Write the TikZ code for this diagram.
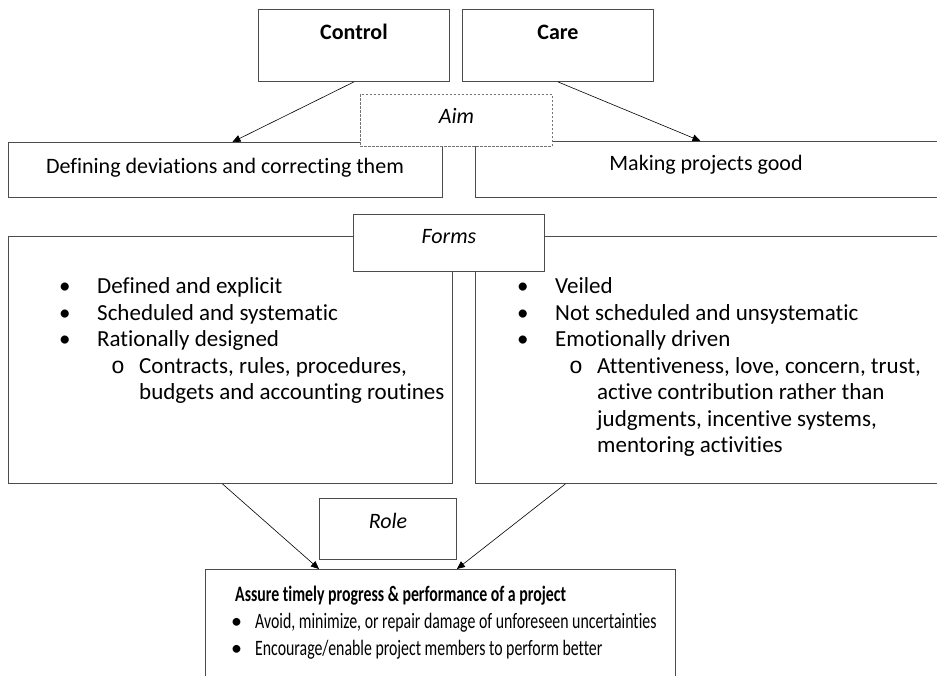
\documentclass[tikz,border=0pt]{standalone}
\usepackage{fontspec}
\setmainfont{Carlito}[Ligatures=NoCommon]
\setmonofont{Liberation Mono}
\usetikzlibrary{arrows.meta,positioning}

\newcommand\txtsize{\fontsize{22}{27}\selectfont}
\newcommand\lstsize{\fontsize{23}{26.5}\selectfont}
\newcommand\narrow[1]{\scalebox{0.72}[1]{#1}}

\begin{document}
\begin{tikzpicture}[x=1pt, y=-1pt,
  every node/.style={font=\txtsize},
  box/.style={draw=black!70, line width=0.9pt, fill=white, anchor=north west, inner sep=0pt},
  aimbox/.style={box, draw=black!55, dash pattern=on 2.5pt off 1.5pt, line width=0.8pt},
  lbl/.style={inner sep=0pt, anchor=base},
  lst/.style={inner sep=0pt, anchor=base west, font=\lstsize},
  arr/.style={-{Triangle[width=7pt,length=8pt]}, line width=0.6pt}]
  \useasboundingbox (0,0) rectangle (937,676);
  % the two sides
  \node[box, minimum width=191, minimum height=72] (control) at (258,9) {};
  \node[box, minimum width=191, minimum height=72] (care) at (462,9) {};
  \node[lbl, font=\txtsize\bfseries] (control-t) at (control.north |- 0,40) {Control};
  \node[lbl, font=\txtsize\bfseries] (care-t) at (care.north |- 0,40) {Care};
  % aim
  \node[box, minimum width=434, minimum height=55] (defn) at (8,142) {};
  \node[box, minimum width=470, minimum height=56] (good) at (475,141) {};
  \node[aimbox, minimum width=192, minimum height=52] (aim) at (360,94) {};
  \node[lbl, font=\txtsize\itshape] (aim-t) at (aim.north |- 0,124) {Aim};
  \node[lbl] (defn-t) at (225,174) {Defining deviations and correcting them};
  \node[lbl] (good-t) at (706,171) {Making projects good};
  \draw[arr] (control.south) -- ([xshift=7]defn.north);
  \draw[arr] (care.south) -- ([xshift=-10]good.north);
  % forms
  \node[box, minimum width=444, minimum height=247] (formsl) at (8,236) {};
  \node[box, minimum width=470, minimum height=247] (formsr) at (475,236) {};
  \node[box, minimum width=191, minimum height=57] (forms) at (353,214) {};
  \node[lbl, font=\txtsize\itshape] (forms-t) at (forms.north |- 0,244) {Forms};
  \node[lst] (control-list) at (59,294) {\begin{tabular}[t]{@{}p{38pt}@{}p{14pt}@{}p{28pt}@{}l@{}}
    • & \multicolumn{3}{@{}l@{}}{Defined and explicit}\\
    • & \multicolumn{3}{@{}l@{}}{Scheduled and systematic}\\
    • & \multicolumn{3}{@{}l@{}}{Rationally designed}\\
      & & \texttt{o} & Contracts, rules, procedures,\\
      & & & budgets and accounting routines
  \end{tabular}};
  \node[lst] (care-list) at (517,294) {\begin{tabular}[t]{@{}p{38pt}@{}p{14pt}@{}p{28pt}@{}l@{}}
    • & \multicolumn{3}{@{}l@{}}{Veiled}\\
    • & \multicolumn{3}{@{}l@{}}{Not scheduled and unsystematic}\\
    • & \multicolumn{3}{@{}l@{}}{Emotionally driven}\\
      & & \texttt{o} & Attentiveness, love, concern, trust,\\
      & & & active contribution rather than\\
      & & & judgments, incentive systems,\\
      & & & mentoring activities
  \end{tabular}};
  % role
  \node[box, minimum width=137, minimum height=61] (role) at (319,498) {};
  \node[lbl, font=\txtsize\itshape] (role-t) at (role.north |- 0,528) {Role};
  \node[box, minimum width=470, minimum height=140] (assure) at (205,569) {};
  \draw[arr] ([xshift=-8]formsl.south) -- (role.west |- assure.north);
  \draw[arr] ([xshift=-145]formsr.south) -- (role.east |- assure.north);
  \node[lst, font=\txtsize\bfseries] (assure-t) at (235,601) {\narrow{Assure timely progress \& performance of a project}};
  \node[lst, font=\txtsize] (assure-list) at (231,628) {\begin{tabular}[t]{@{}p{24pt}@{}l@{}}
    • & \narrow{Avoid, minimize, or repair damage of unforeseen uncertainties}\\
    • & \narrow{Encourage/enable project members to perform better}
  \end{tabular}};
\end{tikzpicture}
\end{document}
